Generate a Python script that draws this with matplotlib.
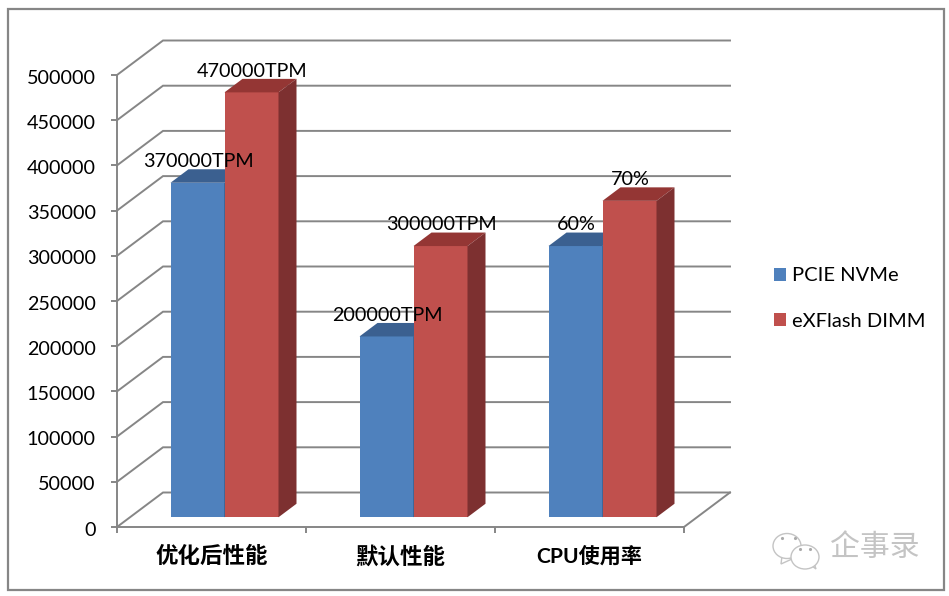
"""Two-series faux-3D column chart (PCIE NVMe vs eXFlash DIMM)."""
import matplotlib
matplotlib.use("Agg")
import matplotlib.pyplot as plt
import numpy as np
from matplotlib.patches import Ellipse, Polygon, Rectangle
from matplotlib.transforms import Affine2D

plt.rcParams["font.family"] = ["Lato", "Noto Sans CJK SC", "DejaVu Sans"]

categories = ["优化后性能", "默认性能", "CPU使用率"]
series_names = ["PCIE NVMe", "eXFlash DIMM"]
nvme_values = [370000, 200000, 300000]
exflash_values = [470000, 300000, 350000]
nvme_labels = ["370000TPM", "200000TPM", "60%"]
exflash_labels = ["470000TPM", "300000TPM", "70%"]
y_ticks = list(range(0, 500001, 50000))

GREY = "#868686"
BLUE, BLUE_TOP, BLUE_SIDE = "#4F81BD", "#3B6090", "#2F4F77"
RED, RED_TOP, RED_SIDE = "#C0504D", "#943634", "#7D3030"

W, H = 949, 596
LEFT, RIGHT, TOP, BOTTOM = 117, 684, 75, 527
DEPTH_X, DEPTH_Y = 46, 34.5  # wall depth in pixels
BAR_W = 54 / 189
BAR_NEAR, BAR_FAR = 13 / 46, 31 / 46  # bar front / back in wall depth fractions

fig = plt.figure(figsize=(W / 100, H / 100), dpi=100, facecolor="white")
ax = fig.add_axes([LEFT / W, 1 - BOTTOM / H, (RIGHT - LEFT) / W, (BOTTOM - TOP) / H])
ax.set_xlim(0, 3)
ax.set_ylim(0, 500000)
ax.patch.set_visible(False)

# data units per unit of depth
dx = DEPTH_X * 3 / (RIGHT - LEFT)
dy = DEPTH_Y * 500000 / (BOTTOM - TOP)


def lift(x, v, d):
    return x + d * dx, v + d * dy


# walls
for v in y_ticks:
    x0, y0 = lift(0, v, 1)
    x1, y1 = lift(3, v, 1)
    ax.plot([0, x0, x1], [v, y0, y1], color=GREY, lw=1.4, clip_on=False, zorder=1,
            solid_joinstyle="miter")
x1, y1 = lift(3, 0, 1)
ax.plot([3, x1], [0, y1], color=GREY, lw=1.4, clip_on=False, zorder=1)


def draw_bar(x, v, color, top, side, label, z):
    x0, base = lift(x, 0, BAR_NEAR)
    bars = ax.bar(x0, v, BAR_W, bottom=base, align="edge", color=color, clip_on=False, zorder=z)
    corners = [lift(x, v, BAR_NEAR), lift(x + BAR_W, v, BAR_NEAR),
               lift(x + BAR_W, v, BAR_FAR), lift(x, v, BAR_FAR)]
    ax.add_patch(Polygon(corners, facecolor=top, edgecolor="none", clip_on=False, zorder=z))
    corners = [lift(x + BAR_W, 0, BAR_NEAR), lift(x + BAR_W, 0, BAR_FAR),
               lift(x + BAR_W, v, BAR_FAR), lift(x + BAR_W, v, BAR_NEAR)]
    ax.add_patch(Polygon(corners, facecolor=side, edgecolor="none", clip_on=False, zorder=z))
    cx, cy = lift(x + BAR_W / 2, v, BAR_NEAR)
    ax.annotate(label, (cx + 0.003, cy), xytext=(0, 15.2), textcoords="offset points",
                ha="center", va="center", fontsize=14.2, color="black", zorder=10,
                annotation_clip=False)
    return bars


handles = []
for i in range(len(categories)):
    a = draw_bar(i + 0.5 - BAR_W, nvme_values[i], BLUE, BLUE_TOP, BLUE_SIDE, nvme_labels[i], 3)
    b = draw_bar(i + 0.5, exflash_values[i], RED, RED_TOP, RED_SIDE, exflash_labels[i], 4)
    if i == 0:
        handles = [a, b]

# axes
for s in ["top", "right"]:
    ax.spines[s].set_visible(False)
for s in ["left", "bottom"]:
    ax.spines[s].set_color(GREY)
    ax.spines[s].set_linewidth(1.4)
ax.set_yticks(y_ticks)
ax.set_yticklabels([str(v) for v in y_ticks], fontsize=14.2, color="black")
ax.tick_params(axis="y", color=GREY, width=1.4, length=4.3, pad=11)
for t in ax.get_yticklabels():
    t.set_transform(t.get_transform() + Affine2D().translate(0, -1.5))
ax.set_xticks(np.arange(4))
ax.set_xticklabels([])
ax.tick_params(axis="x", which="major", color=GREY, width=1.4, length=4.3)
ax.set_xticks(np.arange(3) + 0.5, minor=True)
ax.set_xticklabels(categories, minor=True, fontsize=16.2, fontweight="bold", color="black")
ax.tick_params(axis="x", which="minor", length=0, pad=13.5)
ax.get_xticklabels(minor=True)[2].set_fontsize(15.2)

fig.legend(handles, series_names, loc="center left", bbox_to_anchor=(774 / W, 1 - 298.5 / H),
           frameon=False, fontsize=14.5, handlelength=0.6, handleheight=0.6,
           handletextpad=0.3, labelspacing=1.4, borderpad=0, borderaxespad=0)

# overlay in pixel coordinates: frame and watermark
ov = fig.add_axes([0, 0, 1, 1], zorder=-1)
ov.set_xlim(0, W)
ov.set_ylim(H, 0)
ov.axis("off")
ov.add_patch(Rectangle((8, 9), 936, 581, facecolor="white", edgecolor=GREY, lw=1.6))

mark = "#c4c4c4"
ov.add_patch(Polygon([(782, 556), (781, 564), (792, 559)], facecolor="white", edgecolor=mark, lw=1.0))
ov.add_patch(Ellipse((787, 546), 28, 25, facecolor="white", edgecolor=mark, lw=1.0))
ov.add_patch(Polygon([(808, 563), (816, 569), (813, 560)], facecolor="white", edgecolor=mark, lw=1.0))
ov.add_patch(Ellipse((805, 557), 28, 24, facecolor="white", edgecolor=mark, lw=1.0))
ov.plot([782, 795, 800, 810], [538, 538, 549, 549], ls="none", marker=".", ms=2.5, color="#aaaaaa")
ov.text(875, 547, "企事录", fontsize=21.5, color=mark, ha="center", va="center")

fig.savefig("out.png", dpi=100, facecolor="white")
